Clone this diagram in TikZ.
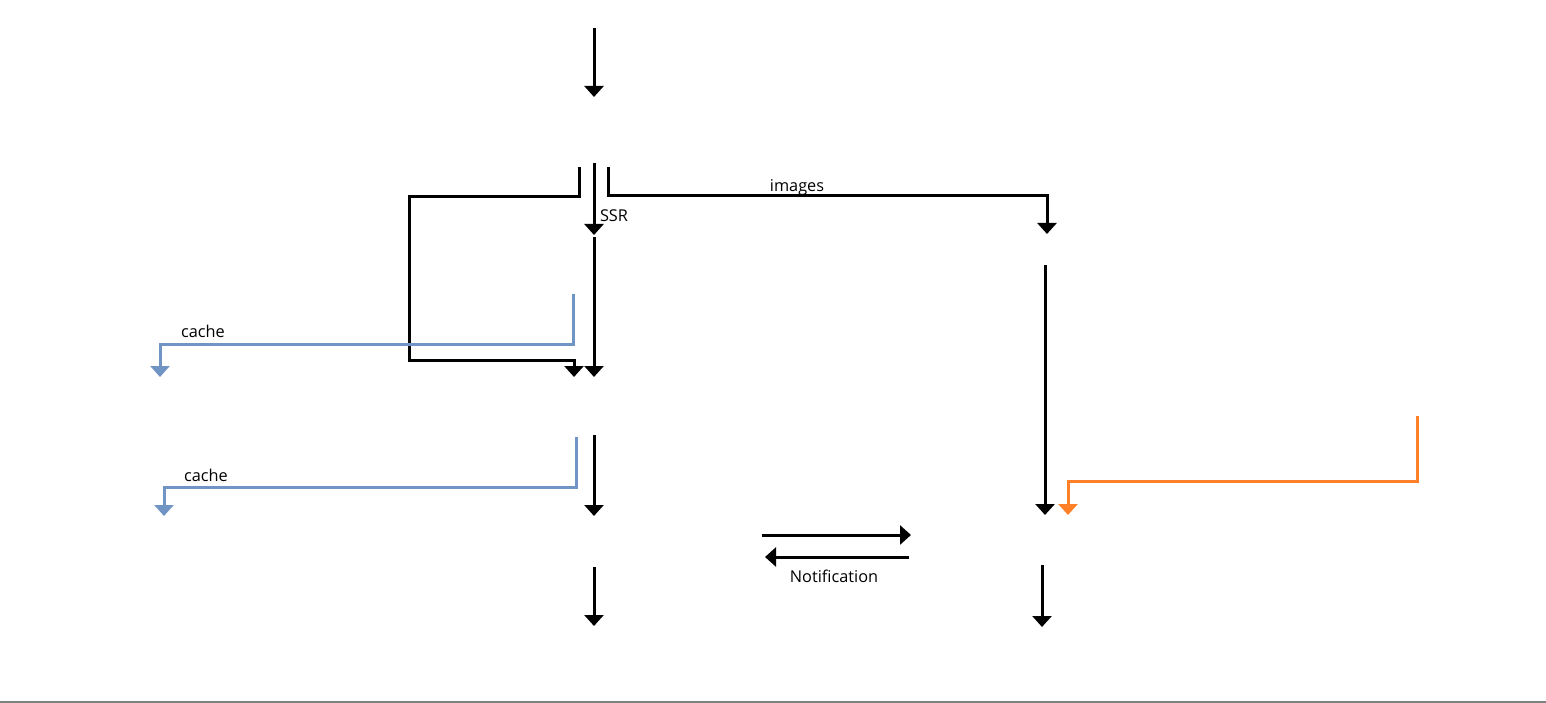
\documentclass[tikz,border=0pt]{standalone}
\usepackage{fontspec}
\setmainfont{Open Sans}
\usetikzlibrary{arrows.meta}
\definecolor{cblue}{RGB}{112,148,196}
\definecolor{corange}{RGB}{255,128,40}
\definecolor{cgray}{RGB}{128,128,128}
\tikzset{
  conn/.style={line width=3pt, -{Triangle[width=19pt,length=11pt]}},
  lbl/.style={font=\fontsize{16.3pt}{19pt}\selectfont, inner sep=0pt, text=black}
}
\begin{document}
\begin{tikzpicture}[x=1pt,y=-1pt]
\useasboundingbox (0,0) rectangle (1546,703);
\fill[white] (0,0) rectangle (1546,703);
\draw[cgray, line width=2pt] (0,701.5) -- (1546,701.5);
% coordinates
\coordinate (t0) at (594,28);   \coordinate (t1) at (594,97);
\coordinate (l0) at (579,167);  \coordinate (l1) at (579,197);
\coordinate (l2) at (409,197);  \coordinate (l3) at (409,360);
\coordinate (l4) at (574,360);  \coordinate (l5) at (574,377);
\coordinate (m0) at (594,163);  \coordinate (m1) at (594,235);
\coordinate (m2) at (594,237);  \coordinate (m3) at (594,377);
\coordinate (r0) at (608,167);  \coordinate (r1) at (608,196);
\coordinate (r2) at (1047,196); \coordinate (r3) at (1047,234);
\coordinate (c0) at (1045,265); \coordinate (c1) at (1045,515);
\coordinate (o0) at (1417,416); \coordinate (o1) at (1417,481);
\coordinate (o2) at (1068,481); \coordinate (o3) at (1068,515);
\coordinate (b0) at (573,294);  \coordinate (b1) at (573,344);
\coordinate (b2) at (160,344);  \coordinate (b3) at (160,377);
\coordinate (d0) at (576,437);  \coordinate (d1) at (576,487);
\coordinate (d2) at (164,487);  \coordinate (d3) at (164,516);
\coordinate (e0) at (594,435);  \coordinate (e1) at (594,516);
\coordinate (f0) at (594,567);  \coordinate (f1) at (594,626);
\coordinate (g0) at (1042,565); \coordinate (g1) at (1042,627);
\coordinate (h0) at (762,535);  \coordinate (h1) at (911,535);
\coordinate (k0) at (909,557);  \coordinate (k1) at (765,557);
% connectors
\draw[conn] (t0) -- (t1);
\draw[conn] (l0) -- (l1) -- (l2) -- (l3) -- (l4) -- (l5);
\draw[conn] (m0) -- (m1);
\draw[conn] (m2) -- (m3);
\draw[conn] (r0) -- (r1) -- (r2) -- (r3);
\draw[conn] (c0) -- (c1);
\draw[conn, corange] (o0) -- (o1) -- (o2) -- (o3);
\draw[conn, cblue] (b0) -- (b1) -- (b2) -- (b3);
\draw[conn, cblue] (d0) -- (d1) -- (d2) -- (d3);
\draw[conn] (e0) -- (e1);
\draw[conn] (f0) -- (f1);
\draw[conn] (g0) -- (g1);
\draw[conn] (h0) -- (h1);
\draw[conn] (k0) -- (k1);
% labels
\node[lbl] (ssr) at (614,216) {SSR};
\node[lbl] (img) at (797,187) {images};
\node[lbl] (ca1) at (203,331) {cache};
\node[lbl] (ca2) at (206,475) {cache};
\node[lbl] (noti) at (834,576) {Notification};
\end{tikzpicture}
\end{document}
